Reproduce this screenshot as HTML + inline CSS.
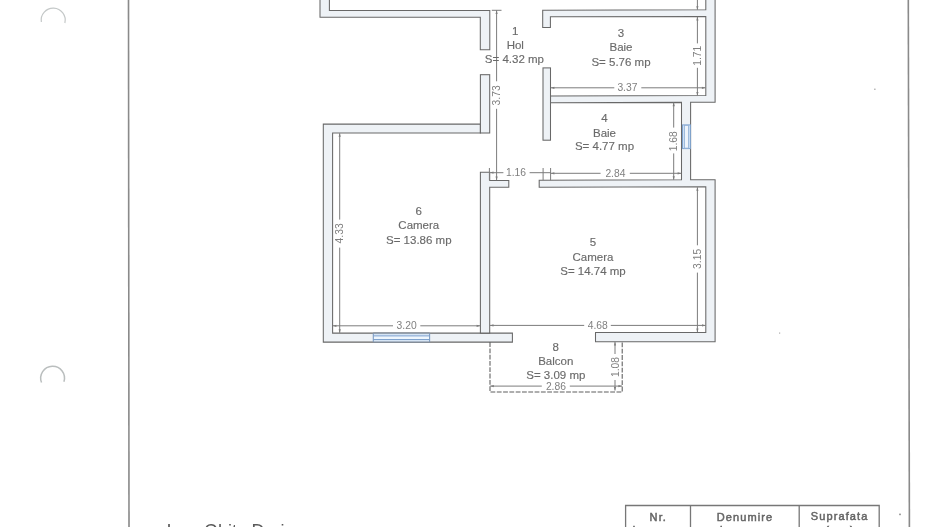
<!DOCTYPE html>
<html lang="ro"><head><meta charset="utf-8"><title>Plan apartament</title>
<style>
html,body{margin:0;padding:0;background:#fff;}
body{width:938px;height:527px;overflow:hidden;position:relative;font-family:"Liberation Sans",sans-serif;}
svg{position:absolute;left:0;top:0;display:block;}
.w{fill:#eef2f6;stroke:#686868;stroke-width:1.05;stroke-linejoin:miter;}
.d{fill:none;stroke:#7c7c7c;stroke-width:1;}
.a{fill:#7c7c7c;stroke:none;}
.b{fill:none;stroke:#8a8a8a;stroke-width:1.6;}
.dash{fill:none;stroke:#5c5c5c;stroke-width:1.05;stroke-dasharray:4.8 1.5;}
.win{fill:#cfe0f3;stroke:#7fa3cf;stroke-width:1;}
.win2{fill:#eef4fb;stroke:#8fb0d8;stroke-width:0.8;}
.wl{fill:none;stroke:#7fa3cf;stroke-width:1;}
.r{font-family:"Liberation Sans",sans-serif;font-size:11.5px;fill:#6a6a6a;stroke:#6a6a6a;stroke-width:0.15;text-anchor:middle;}
.m{font-family:"Liberation Sans",sans-serif;font-size:10.3px;fill:#808080;text-anchor:middle;}
.t{font-family:"Liberation Sans",sans-serif;font-size:11px;fill:#666;stroke:#666;stroke-width:0.5;text-anchor:middle;letter-spacing:1.1px;}
.n{font-family:"Liberation Sans",sans-serif;font-size:18px;fill:#5a5a5a;}
.h{fill:none;stroke:#c4c8c8;stroke-width:1.2;}
.s{fill:#8a8a8a;}
</style></head><body>
<svg width="938" height="527" viewBox="0 0 938 527">
<defs><filter id="soft" x="0" y="0" width="938" height="527" filterUnits="userSpaceOnUse"><feGaussianBlur stdDeviation="0.35"/></filter></defs>
<rect x="0" y="0" width="938" height="527" fill="#fff"/>
<g filter="url(#soft)">
<g id="page-border">
<line class="b" x1="128.5" y1="-2" x2="129" y2="529"/>
<line class="b" x1="908.3" y1="-2" x2="909.4" y2="529"/>
</g>
<g id="holes">
<path class="h" d="M41.34 22.00 A12.00 12.00 0 1 1 64.87 23.00"/>
<path class="h" d="M41.54 382.50 A11.90 11.90 0 1 1 63.91 381.80" style="stroke:#babebe;stroke-width:1.5"/>
</g>
<g id="walls">
<polygon class="w" points="320,-3 320,17.2 480.3,17.2 480.3,49.7 489.8,49.7 489.8,10.4 329.4,10.4 329.4,-3"/>
<polygon class="w" points="480.4,124.1 323.3,124.1 323.3,342.1 512.4,342.1 512.4,333.1 332.6,333.1 332.6,132.9 480.4,132.9"/>
<rect class="w" x="480.4" y="74.7" width="9.3" height="58.3"/>
<polygon class="w" points="480.4,172.3 489.7,172.3 489.7,180.4 508.8,180.4 508.8,187.2 489.7,187.2 489.7,333.1 480.4,333.1"/>
<polygon class="w" points="542.7,10.3 705.8,9.8 705.8,-3 715.1,-3 715.1,102.3 690.6,102.3 690.6,179.8 715.1,179.8 715.1,341.7 595.5,341.7 595.5,332.4 705.8,332.4 705.8,186.7 539.2,187.2 539.2,180.3 681.5,179.8 681.5,102.4 550.5,102.8 550.5,95.9 705.8,95.5 705.8,16.5 550.4,16.8 550.4,27.4 542.7,27.4"/>
<rect class="w" x="543" y="67.9" width="7.5" height="72.3"/>
</g>
<g id="windows">
<rect x="373.3" y="333.1" width="56.3" height="9" fill="#d6e5f5"/>
<rect x="373.3" y="335.9" width="56.3" height="3.6" fill="#eef6fd"/>
<path class="wl" d="M373.3 335.9H429.6M373.3 339.5H429.6"/>
<path d="M373.3 333.1V342.1M429.6 333.1V342.1" fill="none" stroke="#7d9cc4" stroke-width="1.1"/>
<path d="M373.3 333.1H429.6M373.3 342.1H429.6" fill="none" stroke="#7f8a99" stroke-width="1.1"/>
<rect class="win" x="682.5" y="124.9" width="7.9" height="23.7"/>
<rect class="win2" x="684.6" y="125.4" width="3.8" height="22.7"/>
</g>
<g id="balcony">
<polyline class="dash" points="490,342.1 490,392 622.2,392 622.2,341.7"/>
</g>
<g id="dims">
<line class="d" x1="491.8" y1="10.3" x2="501.5" y2="10.3"/>
<line class="d" x1="496.6" y1="10.3" x2="496.6" y2="81.3"/>
<line class="d" x1="496.6" y1="108.8" x2="496.6" y2="180.2"/>
<polygon class="a" points="496.6,10.3 495.5,13.9 497.7,13.9"/>
<polygon class="a" points="496.6,180.2 495.5,176.6 497.7,176.6"/>
<text class="m" transform="rotate(-90 496.6 95.4)" x="496.6" y="98.9">3.73</text>
<line class="d" x1="489.4" y1="168" x2="489.4" y2="180.3"/>
<line class="d" x1="543.1" y1="168" x2="543.1" y2="180.3"/>
<line class="d" x1="550.6" y1="168" x2="550.6" y2="180.3"/>
<line class="d" x1="489.4" y1="172.7" x2="503.4" y2="172.7"/>
<line class="d" x1="529.6" y1="172.7" x2="551" y2="172.7"/>
<text class="m" x="516" y="175.7">1.16</text>
<polygon class="a" points="489.9,172.6 493.5,171.5 493.5,173.7"/>
<line class="d" x1="550.8" y1="173.3" x2="600.6" y2="173.3"/>
<line class="d" x1="629.8" y1="173.3" x2="681.2" y2="173.3"/>
<polygon class="a" points="550.8,173.3 554.4,172.2 554.4,174.4"/>
<polygon class="a" points="681.2,173.3 677.6,172.2 677.6,174.4"/>
<text class="m" x="615.4" y="176.8">2.84</text>
<line class="d" x1="673.7" y1="102.6" x2="673.7" y2="127.6"/>
<line class="d" x1="673.7" y1="153.4" x2="673.7" y2="179.8"/>
<polygon class="a" points="673.7,102.6 672.6,106.2 674.8,106.2"/>
<polygon class="a" points="673.7,179.8 672.6,176.2 674.8,176.2"/>
<text class="m" transform="rotate(-90 673.7 141.2)" x="673.7" y="144.7">1.68</text>
<line class="d" x1="550.8" y1="87.8" x2="614.3" y2="87.8"/>
<line class="d" x1="641.3" y1="87.8" x2="705.5" y2="87.8"/>
<polygon class="a" points="550.8,87.8 554.4,86.7 554.4,88.9"/>
<polygon class="a" points="705.5,87.8 701.9,86.7 701.9,88.9"/>
<text class="m" x="627.4" y="91.3">3.37</text>
<line class="d" x1="697.4" y1="16.8" x2="697.4" y2="43.4"/>
<line class="d" x1="697.4" y1="67.8" x2="697.4" y2="95.6"/>
<polygon class="a" points="697.4,16.8 696.3,20.4 698.5,20.4"/>
<polygon class="a" points="697.4,95.6 696.3,92 698.5,92"/>
<text class="m" transform="rotate(-90 697.4 55.7)" x="697.4" y="59.2">1.71</text>
<line class="d" x1="697.4" y1="-2" x2="697.4" y2="9.8"/>
<polygon class="a" points="697.4,9.8 696.3,6.2 698.5,6.2"/>
<line class="d" x1="339.7" y1="133.2" x2="339.7" y2="219.6"/>
<line class="d" x1="339.7" y1="247.6" x2="339.7" y2="332.9"/>
<polygon class="a" points="339.7,133.2 338.6,136.8 340.8,136.8"/>
<polygon class="a" points="339.7,332.9 338.6,329.3 340.8,329.3"/>
<text class="m" transform="rotate(-90 339.7 233.4)" x="339.7" y="236.9">4.33</text>
<line class="d" x1="332.8" y1="325.8" x2="393" y2="325.8"/>
<line class="d" x1="420.3" y1="325.8" x2="480.2" y2="325.8"/>
<polygon class="a" points="332.8,325.8 336.4,324.7 336.4,326.9"/>
<polygon class="a" points="480.2,325.8 476.6,324.7 476.6,326.9"/>
<text class="m" x="406.6" y="328.8">3.20</text>
<line class="d" x1="489.9" y1="325.4" x2="584.2" y2="325.4"/>
<line class="d" x1="610.8" y1="325.4" x2="705.6" y2="325.4"/>
<polygon class="a" points="489.9,325.4 493.5,324.3 493.5,326.5"/>
<polygon class="a" points="705.6,325.4 702,324.3 702,326.5"/>
<text class="m" x="597.7" y="329.3">4.68</text>
<line class="d" x1="697.4" y1="187.2" x2="697.4" y2="245.3"/>
<line class="d" x1="697.4" y1="272.6" x2="697.4" y2="332.2"/>
<polygon class="a" points="697.4,187.2 696.3,190.8 698.5,190.8"/>
<polygon class="a" points="697.4,332.2 696.3,328.6 698.5,328.6"/>
<text class="m" transform="rotate(-90 697.4 258.9)" x="697.4" y="262.4">3.15</text>
<line class="d" x1="615" y1="341.9" x2="615" y2="354"/>
<line class="d" x1="615" y1="380" x2="615" y2="390.5"/>
<polygon class="a" points="615,341.9 613.9,345.5 616.1,345.5"/>
<polygon class="a" points="615,390.5 613.9,386.9 616.1,386.9"/>
<text class="m" transform="rotate(-90 615 367)" x="615" y="370.5">1.08</text>
<line class="d" x1="490.2" y1="386.1" x2="541.8" y2="386.1"/>
<line class="d" x1="569.8" y1="386.1" x2="622" y2="386.1"/>
<polygon class="a" points="490.2,386.1 493.8,385 493.8,387.2"/>
<polygon class="a" points="622,386.1 618.4,385 618.4,387.2"/>
<text class="m" x="555.9" y="389.8">2.86</text>
</g>
<g id="rooms">
<text class="r" x="515.2" y="35.3">1</text>
<text class="r" x="515.3" y="49.1">Hol</text>
<text class="r" x="514.4" y="63.3">S= 4.32 mp</text>
<text class="r" x="621" y="37.3">3</text>
<text class="r" x="621" y="51.1">Baie</text>
<text class="r" x="621" y="65.7">S= 5.76 mp</text>
<text class="r" x="604.5" y="122.2">4</text>
<text class="r" x="604.5" y="136.7">Baie</text>
<text class="r" x="604.5" y="150.4">S= 4.77 mp</text>
<text class="r" x="418.8" y="215">6</text>
<text class="r" x="418.8" y="229.2">Camera</text>
<text class="r" x="418.8" y="243.5">S= 13.86 mp</text>
<text class="r" x="593" y="246">5</text>
<text class="r" x="593" y="260.8">Camera</text>
<text class="r" x="593" y="274.6">S= 14.74 mp</text>
<text class="r" x="555.8" y="350.9">8</text>
<text class="r" x="555.8" y="365.4">Balcon</text>
<text class="r" x="555.8" y="379.2">S= 3.09 mp</text>
</g>
<g id="table">
<path d="M625.6 530 V505.5 H879.2 V530 M690.5 505.5 V530 M799.2 505.5 V530" fill="none" stroke="#777" stroke-width="1.3"/>
<text class="t" x="658.3" y="521">Nr.</text>
<text class="t" x="745" y="521">Denumire</text>
<text class="t" x="839.6" y="520.3">Suprafata</text>
<text class="t" x="658.3" y="533.6">incapere</text>
<text class="t" x="745.4" y="533.6">incapere</text>
<text class="t" x="840.4" y="534" style="letter-spacing:1.9px">(mp)</text>
</g>
<text class="n" y="537"><tspan x="166.4">Ing.</tspan> <tspan x="204">Ghita</tspan> <tspan x="251.4">Dorian</tspan></text>
<g id="specks">
<rect class="s" x="899.2" y="513.6" width="1.6" height="1.6"/>
<rect class="s" x="874.2" y="88.6" width="1.3" height="1.3" opacity="0.8"/>
<rect class="s" x="779" y="332.5" width="1.2" height="1.2" opacity="0.7"/>
</g>
</g>
</svg>
</body></html>
